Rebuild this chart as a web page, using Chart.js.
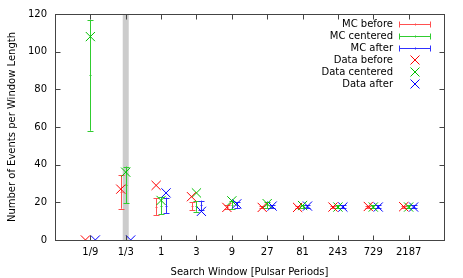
<!DOCTYPE html>
<html>
<head>
<meta charset="utf-8">
<script src="https://cdn.jsdelivr.net/npm/chart.js@4"></script>
<style>
  html, body { margin: 0; padding: 0; background: #fff; }
  #wrap { width: 463px; height: 278px; }
</style>
</head>
<body>
<div id="wrap"><canvas id="c" width="463" height="278"></canvas></div>
<script>
// categories on the x axis
const windows = ['1/9', '1/3', '1', '3', '9', '27', '81', '243', '729', '2187'];

// measured event counts
const dataBefore   = [0, 27, 29, 23, 17.3, 17.3, 17.3, 17.5, 17.8, 17.7];
const dataCentered = [108, 36, 21, 25, 20.8, 19.3, 18.3, 17.5, 17.5, 17.5];
const dataAfter    = [0, 0, 25, 15.2, 19.2, 18, 18, 17.5, 17.5, 17.5];

// MC mean and spread (low / mean / high)
const mcBeforeLow    = [null, 16.6, 13.3, 15.8, 16.5, 17, 17, 17, 17, 17];
const mcBeforeMean   = [null, 25.5, 17.7, 18, 17.5, 17.5, 17.5, 17.5, 17.5, 17.5];
const mcBeforeHigh   = [null, 34.4, 22.1, 20, 18.5, 18, 18, 18, 18, 18];
const mcCenteredLow  = [58, 19.5, 13.8, 15, 16.5, 17, 17, 17, 17, 17];
const mcCenteredMean = [87.5, 29, 18.2, 17.8, 18.5, 18.5, 17.8, 17.8, 17.8, 17.8];
const mcCenteredHigh = [117, 39, 22.7, 20.5, 20.5, 20, 18.6, 18.6, 18.6, 18.6];
const mcAfterLow     = [null, null, 14.2, 15.9, 16.8, 17, 17, 17, 17, 17];
const mcAfterMean    = [null, null, 18.3, 18.4, 18.5, 17.7, 17.7, 17.7, 17.7, 17.7];
const mcAfterHigh    = [null, null, 22.5, 20.9, 20.2, 18.4, 18.4, 18.4, 18.4, 18.4];

const yTicks = [0, 20, 40, 60, 80, 100, 120];
const highlightIndex = 1; // gray band at 1/3

const RED = '#ff0000', GREEN = '#00c000', BLUE = '#0000ff';
const RED_BAR = '#ff5050', GREEN_BAR = '#30cc30', BLUE_BAR = '#3030ff';
const OFF = 0.14;
const FONT = '10px "DejaVu Sans"';

function pts(arr, off) {
  return arr.map((v, i) => ({ x: i + off, y: v }));
}

const mcSets = [
  { label: 'MC before',   color: RED_BAR,   off: -OFF, low: mcBeforeLow,   mean: mcBeforeMean,   high: mcBeforeHigh },
  { label: 'MC centered', color: GREEN_BAR, off: 0,    low: mcCenteredLow, mean: mcCenteredMean, high: mcCenteredHigh },
  { label: 'MC after',    color: BLUE_BAR,  off: OFF,  low: mcAfterLow,    mean: mcAfterMean,    high: mcAfterHigh }
];

const scatterSets = [
  { label: 'Data before',   color: RED,   off: -OFF, values: dataBefore },
  { label: 'Data centered', color: GREEN, off: 0,    values: dataCentered },
  { label: 'Data after',    color: BLUE,  off: OFF,  values: dataAfter }
];

// band + frame + inward ticks + error bars + legend, gnuplot style
const gnuplotLook = {
  id: 'gnuplotLook',
  beforeDatasetsDraw(chart) {
    const { ctx, chartArea: a, scales: { x, y } } = chart;
    ctx.save();
    // gray band
    ctx.fillStyle = '#cccccc';
    const b0 = x.getPixelForValue(highlightIndex - 0.085);
    const b1 = x.getPixelForValue(highlightIndex + 0.085);
    ctx.fillRect(b0, a.top, b1 - b0, a.bottom - a.top);

    // error bars
    ctx.lineWidth = 1;
    mcSets.forEach(s => {
      ctx.strokeStyle = s.color;
      s.low.forEach((lo, i) => {
        if (lo === null) return;
        const px = Math.round(x.getPixelForValue(i + s.off)) + 0.5;
        const pl = y.getPixelForValue(lo);
        const ph = y.getPixelForValue(s.high[i]);
        const pm = y.getPixelForValue(s.mean[i]);
        ctx.beginPath();
        ctx.moveTo(px, pl); ctx.lineTo(px, ph);
        ctx.moveTo(px - 3, Math.round(pl) + 0.5); ctx.lineTo(px + 3, Math.round(pl) + 0.5);
        ctx.moveTo(px - 3, Math.round(ph) + 0.5); ctx.lineTo(px + 3, Math.round(ph) + 0.5);
        ctx.moveTo(px - 1, Math.round(pm) + 0.5); ctx.lineTo(px + 1, Math.round(pm) + 0.5);
        ctx.stroke();
      });
    });
    ctx.restore();
  },
  afterDatasetsDraw(chart) {
    const { ctx, chartArea: a, scales: { x, y } } = chart;
    ctx.save();
    ctx.strokeStyle = '#444';
    ctx.lineWidth = 1;
    const L = Math.round(a.left) + 0.5, R = Math.round(a.right) + 0.5;
    const T = Math.round(a.top) + 0.5, B = Math.round(a.bottom) + 0.5;
    ctx.strokeRect(L, T, R - L, B - T);
    ctx.beginPath();
    yTicks.forEach(v => {
      const py = Math.round(y.getPixelForValue(v)) + 0.5;
      ctx.moveTo(L, py); ctx.lineTo(L + 5, py);
      ctx.moveTo(R, py); ctx.lineTo(R - 5, py);
    });
    windows.forEach((w, i) => {
      const px = Math.round(x.getPixelForValue(i)) + 0.5;
      ctx.moveTo(px, B); ctx.lineTo(px, B - 5);
      ctx.moveTo(px, T); ctx.lineTo(px, T + 5);
    });
    ctx.stroke();

    // legend
    ctx.font = FONT;
    ctx.fillStyle = '#000';
    ctx.textAlign = 'right';
    ctx.textBaseline = 'middle';
    const textRight = 393, s0 = 399, s1 = 431, sc = 415;
    let rowY = 24;
    mcSets.forEach(s => {
      ctx.fillText(s.label, textRight, rowY);
      ctx.strokeStyle = s.color;
      ctx.beginPath();
      const ly = rowY + 0.5;
      ctx.moveTo(s0, ly); ctx.lineTo(s1, ly);
      ctx.moveTo(s0 + 0.5, ly - 3); ctx.lineTo(s0 + 0.5, ly + 3);
      ctx.moveTo(s1 - 0.5, ly - 3); ctx.lineTo(s1 - 0.5, ly + 3);
      ctx.moveTo(sc + 0.5, ly - 1); ctx.lineTo(sc + 0.5, ly + 1);
      ctx.stroke();
      rowY += 12;
    });
    scatterSets.forEach(s => {
      ctx.fillText(s.label, textRight, rowY);
      ctx.strokeStyle = s.color;
      ctx.beginPath();
      ctx.moveTo(sc - 4.5, rowY - 4.5); ctx.lineTo(sc + 4.5, rowY + 4.5);
      ctx.moveTo(sc - 4.5, rowY + 4.5); ctx.lineTo(sc + 4.5, rowY - 4.5);
      ctx.stroke();
      rowY += 12;
    });
    ctx.restore();
  }
};

new Chart(document.getElementById('c'), {
  type: 'scatter',
  data: {
    datasets: scatterSets.map(s => ({
      label: s.label,
      data: pts(s.values, s.off),
      pointStyle: 'crossRot',
      radius: 6.5,
      borderColor: s.color,
      backgroundColor: s.color,
      borderWidth: 1
    }))
  },
  options: {
    responsive: false,
    animation: false,
    layout: { padding: { top: 14, right: 19, left: 0, bottom: 0 } },
    plugins: { legend: { display: false }, tooltip: { enabled: false } },
    scales: {
      x: {
        type: 'linear',
        min: -1, max: 10,
        afterBuildTicks: sc => { sc.ticks = windows.map((w, i) => ({ value: i })); },
        afterFit: sc => { sc.height = 38; },
        grid: { display: false, drawTicks: false },
        border: { display: false },
        ticks: {
          font: { family: 'DejaVu Sans', size: 10 },
          color: '#000',
          padding: 6,
          maxRotation: 0,
          callback: v => windows[v]
        },
        title: {
          display: true,
          text: 'Search Window [Pulsar Periods]',
          font: { family: 'DejaVu Sans', size: 10 },
          color: '#000',
          padding: { top: 4, bottom: 0 }
        }
      },
      y: {
        min: 0, max: 120,
        afterBuildTicks: sc => { sc.ticks = yTicks.map(v => ({ value: v })); },
        afterFit: sc => { sc.width = 55; },
        grid: { display: false, drawTicks: false },
        border: { display: false },
        ticks: {
          font: { family: 'DejaVu Sans', size: 10 },
          color: '#000',
          padding: 8
        },
        title: {
          display: true,
          text: 'Number of Events per Window Length',
          font: { family: 'DejaVu Sans', size: 10 },
          color: '#000',
          padding: { top: 6, bottom: 0 }
        }
      }
    }
  },
  plugins: [gnuplotLook]
});
</script>
</body>
</html>
